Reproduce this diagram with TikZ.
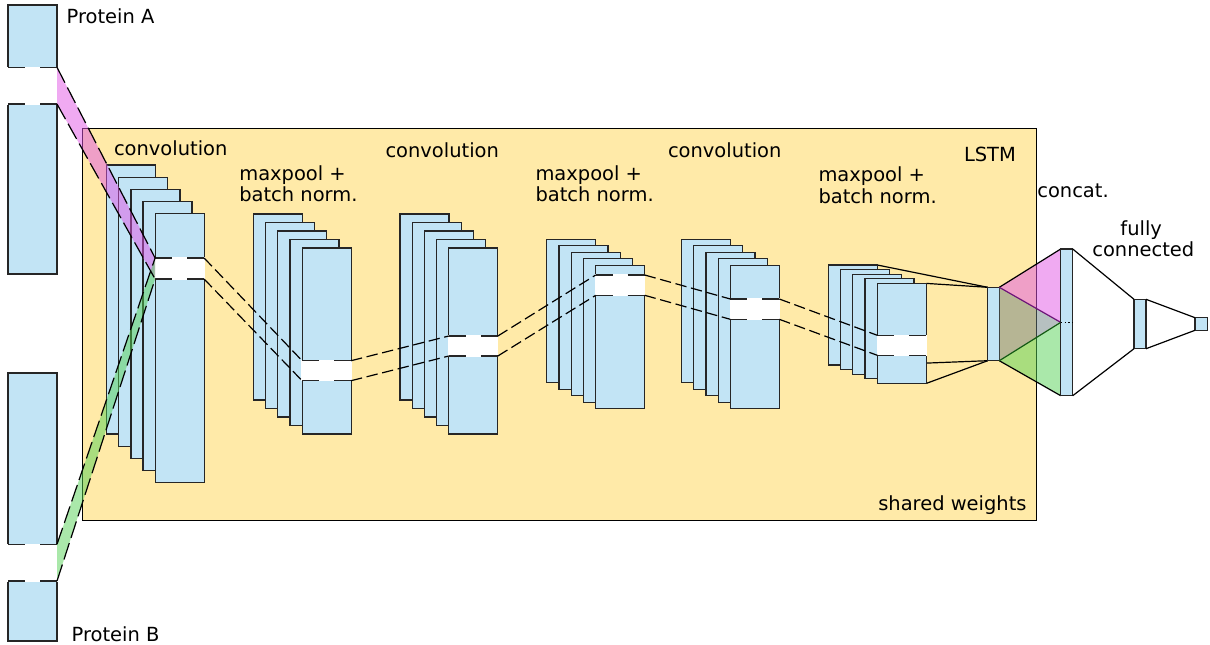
\documentclass[tikz,border=0pt]{standalone}
\usepackage{fontspec}
\setmainfont{DejaVu Sans}
\pgfdeclarelayer{back}
\pgfdeclarelayer{mid}
\pgfsetlayers{back,mid,main}
\definecolor{lblue}{RGB}{194,228,245}
\definecolor{lyel}{RGB}{255,234,168}
\definecolor{bpink}{RGB}{225,85,230}
\definecolor{bgreen}{RGB}{85,210,85}
\definecolor{midgray}{RGB}{110,130,130}
\definecolor{dpurple}{RGB}{110,20,120}
\definecolor{dgreen}{RGB}{20,90,20}
\tikzset{
  blk/.style={rectangle, draw=black!85, fill=lblue, line width=0.9pt, inner sep=0pt, outer sep=0pt, anchor=north west},
  win/.style={rectangle, draw=white, fill=white, line width=1pt, inner sep=0pt, outer sep=0pt, anchor=north west, minimum width=49*0.75pt},
  wedge/.style={draw=black!85, line width=0.9pt, dash pattern=on 12.75pt off 11.25pt},
  conn/.style={draw=black, line width=0.9pt, dash pattern=on 8.5pt off 3.5pt},
  bandline/.style={draw=black, line width=0.9pt, dash pattern=on 13pt off 4pt},
  solid line/.style={draw=black, line width=0.9pt},
  lbl/.style={inner sep=0pt, outer sep=0pt, anchor=base west, font=\fontsize{14.6}{16.3}\selectfont},
  lblc/.style={lbl, anchor=base},
}
\newcommand\mkstack[7]{%
  \foreach \i in {1,...,5}{%
    \node[blk, minimum width=#6*0.75pt, minimum height=#7*0.75pt] (#1\i) at ({#2+(\i-1)*#4},{#3+(\i-1)*#5}) {};
  }%
}
\newcommand\mkwin[4]{%
  \node[win, minimum height=#4*0.75pt] (#1) at (#2,#3) {};
  \draw[wedge] (#1.north west) -- (#1.north east);
  \draw[wedge] (#1.south west) -- (#1.south east);
}
\begin{document}
\begin{tikzpicture}[x=0.75pt,y=-0.75pt]
\useasboundingbox (0,0) rectangle (1210,644);
% shared LSTM box
\begin{pgfonlayer}{back}
\node[rectangle, draw=black, fill=lyel, line width=0.9pt, inner sep=0pt, anchor=north west, minimum width=954*0.75pt, minimum height=392*0.75pt] (lstm) at (82,128) {};
\end{pgfonlayer}
% protein inputs
\node[blk, minimum width=49*0.75pt, minimum height=269*0.75pt] (pA) at (8,5) {};
\node[blk, minimum width=49*0.75pt, minimum height=268*0.75pt] (pB) at (8,373) {};
\mkwin{pAw}{8}{67.3}{36.7}
\mkwin{pBw}{8}{544.3}{36.7}
% stacks
\mkstack{c1}{106.7}{165}{12.1}{12.2}{49}{269}
\mkstack{m1}{253.3}{214}{12.2}{8.5}{49}{186}
\mkstack{c2}{400}{214}{12.2}{8.5}{49}{186}
\mkstack{m2}{546.7}{239.3}{12.25}{6.5}{49}{143.5}
\mkstack{c3}{681.7}{239.3}{12.15}{6.5}{49}{143.5}
\mkstack{m3}{828.3}{265}{12.25}{4.6}{49}{100}
% LSTM output
\node[blk, minimum width=11.6*0.75pt, minimum height=73.4*0.75pt] (lo) at (987.7,287.3) {};
\begin{pgfonlayer}{mid}
\draw[solid line] (m31.north east) -- (lo.north west);
\draw[solid line] (m35.north east) -- (lo.north west);
\draw[solid line] (m31.south east) -- (lo.south west);
\draw[solid line] (m35.south east) -- (lo.south west);
\end{pgfonlayer}
% windows
\mkwin{c1w}{155.1}{258}{21}
\mkwin{m1w}{302.1}{360.7}{20}
\mkwin{c2w}{448.8}{336}{20}
\mkwin{m2w}{595.7}{275}{20.3}
\mkwin{c3w}{730.3}{299}{20.3}
\mkwin{m3w}{877.3}{335.3}{20}
% input bands
\fill[bpink, opacity=0.5] (pAw.north east) -- (c1w.north west) -- (c1w.south west) -- (pAw.south east) -- cycle;
\fill[bgreen, opacity=0.5] (pBw.north east) -- (c1w.north west) -- (c1w.south west) -- (pBw.south east) -- cycle;
\draw[bandline] (pAw.north east) -- (c1w.north west);
\draw[bandline] (pAw.south east) -- (c1w.south west);
\draw[bandline] (pBw.north east) -- (c1w.north west);
\draw[bandline] (pBw.south east) -- (c1w.south west);
% dashed connectors between windows
\draw[conn] (c1w.north east) -- (m1w.north west);
\draw[conn] (c1w.south east) -- (m1w.south west);
\draw[conn] (m1w.north east) -- (c2w.north west);
\draw[conn] (m1w.south east) -- (c2w.south west);
\draw[conn] (c2w.north east) -- (m2w.north west);
\draw[conn] (c2w.south east) -- (m2w.south west);
\draw[conn] (m2w.north east) -- (c3w.north west);
\draw[conn] (m2w.south east) -- (c3w.south west);
\draw[conn] (c3w.north east) -- (m3w.north west);
\draw[conn] (c3w.south east) -- (m3w.south west);
% concat
\coordinate (ccA) at (1060.7,249);
\node[blk, minimum width=12*0.75pt, minimum height=146.7*0.75pt] (cc) at (ccA) {};
\fill[bpink, opacity=0.5] (lo.north east) -- (cc.north west) -- (cc.west) -- cycle;
\fill[bgreen, opacity=0.5] (lo.south east) -- (cc.west) -- (cc.south west) -- cycle;
\fill[midgray, opacity=0.5] (lo.north east) -- (cc.west) -- (lo.south east) -- cycle;
\draw[solid line] (lo.north east) -- (cc.north west);
\draw[solid line] (lo.south east) -- (cc.south west);
\draw[line width=0.9pt, dpurple] (lo.north east) -- (cc.west);
\draw[line width=0.9pt, dgreen] (lo.south east) -- (cc.west);
\node[blk, minimum width=12*0.75pt, minimum height=146.7*0.75pt] at (ccA) {};
\draw[line width=0.9pt, dotted] (cc.west) -- (cc.east);
% fully connected
\node[blk, minimum width=12*0.75pt, minimum height=49.4*0.75pt] (fc) at (1134,299.3) {};
\node[blk, minimum width=12.7*0.75pt, minimum height=12.6*0.75pt] (out) at (1195,317.7) {};
\draw[solid line] (cc.north east) -- (fc.north west);
\draw[solid line] (cc.south east) -- (fc.south west);
\draw[solid line] (fc.north east) -- (out.north west);
\draw[solid line] (fc.south east) -- (out.south west);
% labels
\node[lbl] (tA) at (66.7,23.3) {Protein A};
\node[lbl] (tB) at (71.7,641.7) {Protein B};
\node[lbl] (t1) at (114,155) {convolution};
\node[lbl] (t2a) at (239.3,180) {maxpool +};
\node[lbl] (t2b) at (239.3,201.7) {batch norm.};
\node[lbl] (t3) at (385.5,157) {convolution};
\node[lbl] (t4a) at (535.5,180) {maxpool +};
\node[lbl] (t4b) at (535.5,201.7) {batch norm.};
\node[lbl] (t5) at (668,157) {convolution};
\node[lbl] (t6a) at (818.5,181) {maxpool +};
\node[lbl] (t6b) at (818.5,203) {batch norm.};
\node[lbl] (tL) at (964,161.7) {LSTM};
\node[lbl] (tS) at (878.3,510.7) {shared weights};
\node[lbl] (tC) at (1037.3,197.7) {concat.};
\node[lblc] (tF1) at (1141.2,235) {fully};
\node[lblc] (tF2) at (1143.3,256.7) {connected};
\end{tikzpicture}
\end{document}
